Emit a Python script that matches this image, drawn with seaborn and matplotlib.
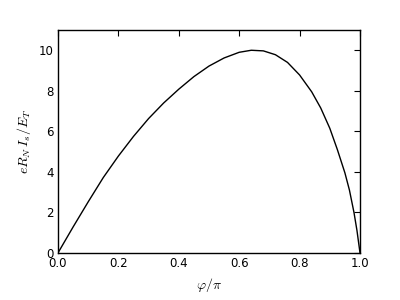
import matplotlib
matplotlib.use("Agg")
import matplotlib.pyplot as plt
import seaborn as sns
import pandas as pd

phi = [0.0, 0.05, 0.1, 0.15, 0.2, 0.25, 0.3, 0.35, 0.4, 0.45, 0.5, 0.55,
       0.6, 0.64, 0.68, 0.72, 0.76, 0.8, 0.84, 0.87, 0.9, 0.925, 0.95,
       0.965, 0.98, 0.99, 1.0]
current = [0.0, 1.28, 2.52, 3.72, 4.78, 5.75, 6.63, 7.4, 8.08, 8.7, 9.22, 9.62,
           9.9, 10.0, 9.97, 9.78, 9.4, 8.78, 7.95, 7.15, 6.15, 5.1, 3.95,
           3.1, 2.0, 1.1, 0.0]

df = pd.DataFrame({"phi": phi, "I": current})

sns.set_theme(style="white")
plt.rcParams["font.family"] = ["DejaVu Sans"]
plt.rcParams["mathtext.fontset"] = "cm"

fig = plt.figure(figsize=(4, 3), dpi=100)
ax = fig.add_axes([0.145, 0.157, 0.755, 0.743])
sns.lineplot(data=df, x="phi", y="I", ax=ax, color="black", linewidth=1.0)
ax.set_xlim(0, 1)
ax.set_ylim(0, 11)
ax.set_xticks([0.0, 0.2, 0.4, 0.6, 0.8, 1.0])
ax.set_xticklabels(["0.0", "0.2", "0.4", "0.6", "0.8", "1.0"])
ax.set_yticks([0, 2, 4, 6, 8, 10])
ax.tick_params(direction="in", top=True, right=True, length=4, width=0.8,
               labelsize=8.5, colors="black", pad=3)
for s in ax.spines.values():
    s.set_color("black")
    s.set_linewidth(1.0)
ax.set_xlabel(r"$\varphi/\pi$", fontsize=10, color="black")
ax.set_ylabel(r"$eR_N\,I_s/E_T$", fontsize=10, color="black")
fig.savefig("out.png", dpi=100)
